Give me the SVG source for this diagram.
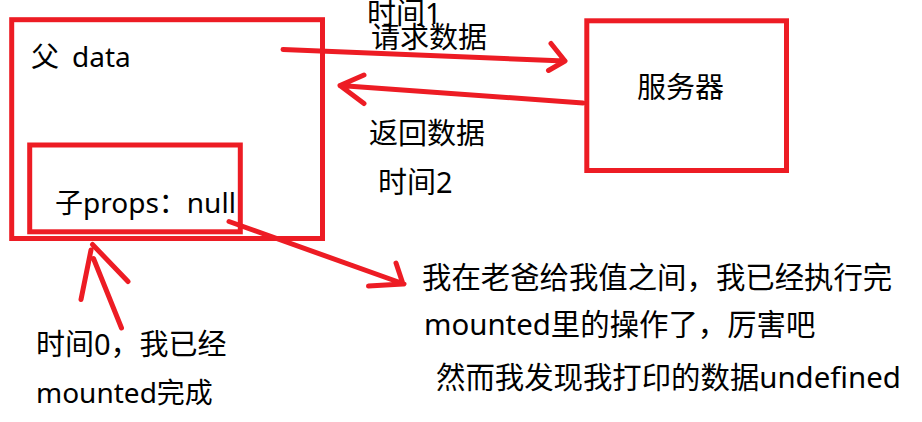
<svg xmlns="http://www.w3.org/2000/svg" width="922" height="422" viewBox="0 0 922 422">
<style>
.box{fill:none;stroke:#ED1C24;stroke-width:5}
.ln{fill:none;stroke:#ED1C24;stroke-width:5;stroke-linecap:round;stroke-linejoin:round}
text{font-family:"Noto Sans","Noto Sans CJK SC",sans-serif;fill:#000;font-size:28px}
.b{font-size:29px}
.c{font-size:29.4px}
</style>
<rect width="922" height="422" fill="#fff"/>
<g id="parent">
<rect class="box" x="11.7" y="19.7" width="310.8" height="218.8"/>
<text x="31" y="67">父<tspan x="72">data</tspan></text>
</g>
<g id="child">
<rect class="box" x="29.7" y="145" width="210.6" height="86.8"/>
<text x="55" y="213">子props：null</text>
</g>
<g id="server">
<rect class="box" x="586.8" y="20.8" width="199.7" height="149.7"/>
<text class="b" x="637" y="98">服务器</text>
</g>
<g id="connectors">
<path class="ln" d="M283 49.5 L565 61 M551 43.5 L565 61 L548.5 70.5"/>
<path class="ln" d="M583 103 L340 85.5 M364 75 L340 85.5 L364 103.5"/>
<path class="ln" d="M229 221.5 L404 284 M396 263 L403 284 L368.5 286"/>
<path class="ln" d="M92.5 244.5 L128 281.5 M91 250 L81 299.5 M93.5 258.5 L121.5 328"/>
</g>
<g id="labels">
<text class="b" x="367" y="24">时间1</text>
<text class="b" x="371" y="48">请求数据</text>
<text class="b" x="369" y="144">返回数据</text>
<text class="b" x="378" y="193">时间2</text>
<text class="b" x="36" y="355">时间0，我已经</text>
<text x="36" y="403">mounted完成</text>
<text class="c" x="422" y="288">我在老爸给我值之间，我已经执行完</text>
<text class="c" x="424" y="335">mounted里的操作了，厉害吧</text>
<text class="c" x="436" y="388">然而我发现我打印的数据undefined</text>
</g>
</svg>
